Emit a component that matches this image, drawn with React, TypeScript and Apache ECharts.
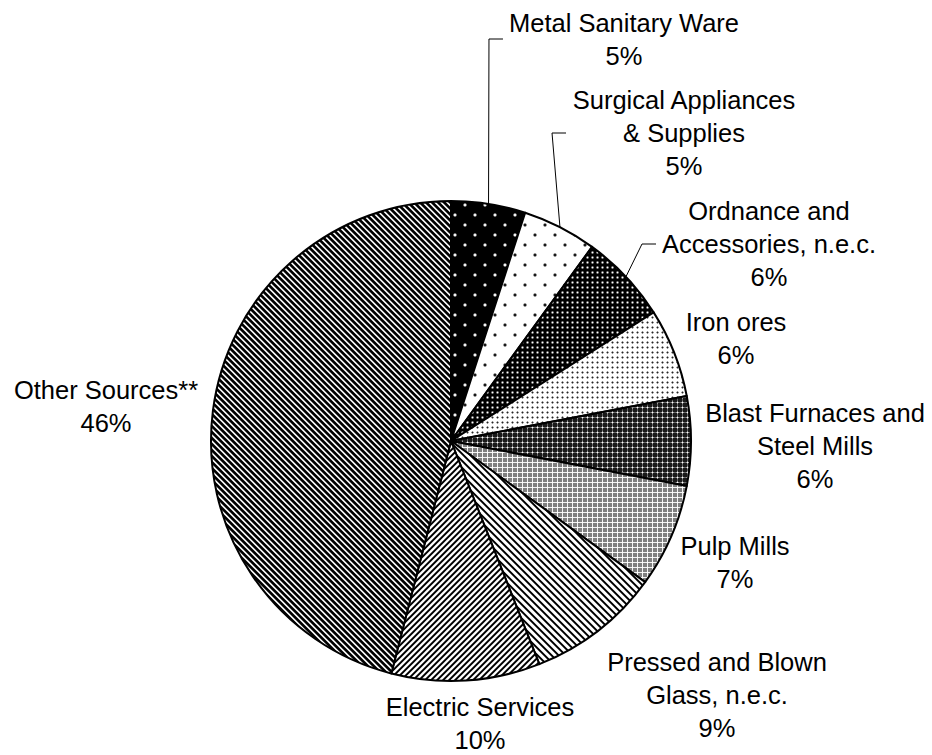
import React, { useEffect, useRef } from "react";
import * as echarts from "echarts";

const categories = [
  "Metal Sanitary Ware",
  "Surgical Appliances & Supplies",
  "Ordnance and Accessories, n.e.c.",
  "Iron ores",
  "Blast Furnaces and Steel Mills",
  "Pulp Mills",
  "Pressed and Blown Glass, n.e.c.",
  "Electric Services",
  "Other Sources**",
];
const labelTexts = [
  "Metal Sanitary Ware",
  "Surgical Appliances\n& Supplies",
  "Ordnance and\nAccessories, n.e.c.",
  "Iron ores",
  "Blast Furnaces and\nSteel Mills",
  "Pulp Mills",
  "Pressed and Blown\nGlass, n.e.c.",
  "Electric Services",
  "Other Sources**",
];
const values = [5, 5, 6, 6, 6, 7, 9, 10, 46];
const hasLeader = [true, true, true, false, false, false, false, false, false];

// label centre positions (layout)
const labelPos: number[][] = [
  [624, 39],
  [684, 133],
  [769, 244],
  [736, 338],
  [815, 446],
  [735, 562],
  [717, 695],
  [480, 723],
  [106, 406],
];

type Shade = (x: number, y: number) => number; // 0 = black, 1 = white

function makeTile(w: number, h: number, shade: Shade) {
  const c = document.createElement("canvas");
  c.width = w;
  c.height = h;
  const ctx = c.getContext("2d")!;
  const img = ctx.createImageData(w, h);
  const S = 4;
  for (let y = 0; y < h; y++) {
    for (let x = 0; x < w; x++) {
      let sum = 0;
      for (let j = 0; j < S; j++)
        for (let i = 0; i < S; i++) sum += shade(x + (i + 0.5) / S, y + (j + 0.5) / S);
      const v = Math.round((255 * sum) / (S * S));
      const k = (y * w + x) * 4;
      img.data[k] = v;
      img.data[k + 1] = v;
      img.data[k + 2] = v;
      img.data[k + 3] = 255;
    }
  }
  ctx.putImageData(img, 0, 0);
  return { image: c as any, imageWidth: w, imageHeight: h, repeat: "repeat" };
}

function stripes(p: number, frac: number, dir: number): Shade {
  return (x, y) => {
    const t = dir > 0 ? x + y : x - y;
    const m = ((t % p) + p) % p;
    return m < frac * p ? 0 : 1;
  };
}

function dots(w: number, h: number, pts: number[][], r: number, fg: number, bg: number): Shade {
  return (x, y) => {
    for (const [px, py] of pts) {
      let dx = Math.abs(x - px);
      let dy = Math.abs(y - py);
      dx = Math.min(dx, w - dx);
      dy = Math.min(dy, h - dy);
      if (dx * dx + dy * dy <= r * r) return fg;
    }
    return bg;
  };
}

function diamond(p: number, base: number, cross: number, center: number): Shade {
  return (x, y) => {
    const dx = Math.abs(x - p / 2);
    const dy = Math.abs(y - p / 2);
    if (dx + dy < 1.1) return center;
    if (Math.min(dx, dy) < 0.6) return cross;
    return base;
  };
}

function buildPatterns() {
  return [
    makeTile(20, 20, dots(20, 20, [[5, 5], [15, 15]], 1.6, 0.95, 0)),
    makeTile(20, 20, dots(20, 20, [[5, 5], [15, 15]], 1.6, 0.1, 1)),
    makeTile(5, 5, dots(5, 5, [[2.5, 2.5]], 1.1, 1, 0)),
    makeTile(5, 5, dots(5, 5, [[2.5, 2.5]], 1.0, 0.15, 1)),
    makeTile(5, 5, diamond(5, 0.1, 0.4, 1)),
    makeTile(5, 5, diamond(5, 0.5, 0.95, 1)),
    makeTile(7, 7, stripes(7, 0.38, -1)),
    makeTile(6, 6, stripes(6, 0.45, 1)),
    makeTile(6, 6, stripes(6, 0.6, -1)),
  ];
}

export default function App() {
  const ref = useRef<HTMLDivElement>(null);
  useEffect(() => {
    document.body.style.margin = "0";
    const chart = echarts.init(ref.current!, null, { renderer: "svg" });
    const patterns = buildPatterns();
    const data = categories.map((name, i) => ({
      name,
      value: values[i],
      itemStyle: { color: patterns[i] as any },
      labelLine: { show: hasLeader[i] },
    }));
    chart.setOption({
      animation: false,
      backgroundColor: "#fff",
      series: [
        {
          type: "pie",
          center: [451, 441],
          radius: 240,
          startAngle: 90,
          clockwise: true,
          avoidLabelOverlap: false,
          data,
          itemStyle: { borderColor: "#000", borderWidth: 2 },
          emphasis: { disabled: true },
          label: {
            show: true,
            position: "outside",
            bleedMargin: -500,
            color: "#000",
            fontSize: 25.5,
            lineHeight: 33,
            fontFamily: "'Liberation Sans', Arial, sans-serif",
            formatter: (p: any) => labelTexts[p.dataIndex] + "\n" + values[p.dataIndex] + "%",
          },
          labelLine: {
            show: true,
            length: 10,
            length2: 10,
            smooth: false,
            lineStyle: { color: "#000", width: 1 },
          },
          labelLayout: (params: any) => {
            const i = params.dataIndex;
            const pos = labelPos[i];
            const res: any = { x: pos[0], y: pos[1], align: "center", verticalAlign: "middle" };
            if (hasLeader[i] && params.labelLinePoints) {
              const start = params.labelLinePoints[0];
              const left = pos[0] - params.labelRect.width / 2;
              res.labelLinePoints = [start, [left - 20, pos[1]], [left - 6, pos[1]]];
            }
            return res;
          },
        },
      ],
    });
    return () => chart.dispose();
  }, []);
  return <div ref={ref} style={{ width: 932, height: 755 }} />;
}
